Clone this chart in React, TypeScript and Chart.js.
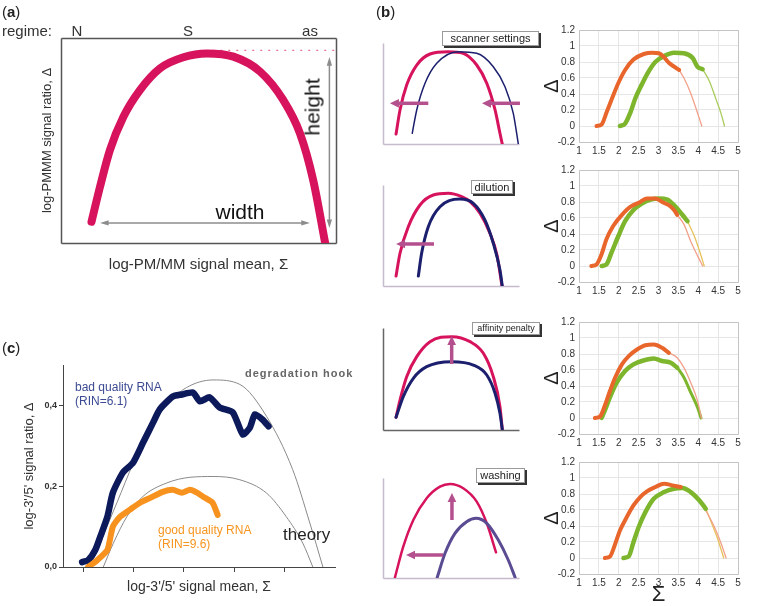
import React, { useEffect, useRef } from "react";
import { Chart, registerables } from "chart.js";
Chart.register(...registerables);

// ---------------- Panel (a): schematic hook ----------------
const aCurveX = [1.11, 1.42, 1.78, 2.27, 2.87, 3.6, 4.45, 5.3, 6.27, 7.24, 8.08, 8.69, 9.17, 9.62];
const aCurveY = [0.104, 0.275, 0.454, 0.616, 0.746, 0.852, 0.906, 0.925, 0.909, 0.836, 0.698, 0.535, 0.307, -0.01];
const aDotX = [5.5, 10];
const aDotY = [0.94, 0.94];
const aHeightArrow = [9.76, 0.907, 9.76, 0.073];
const aWidthArrow = [1.42, 0.098, 9.05, 0.098];

// ---------------- Panel (b): schematics ----------------
const b1RedX = [0.96, 1.25, 1.74, 2.48, 3.46, 4.8, 5.9, 6.89, 7.63, 8.24, 8.6, 8.77];
const b1RedY = [0.099, 0.337, 0.584, 0.782, 0.891, 0.914, 0.898, 0.782, 0.601, 0.337, 0.106, 0];
const b1BlueX = [2.15, 2.48, 3.09, 3.95, 5.54, 6.89, 8.11, 8.97, 9.58, 9.95];
const b1BlueY = [0.106, 0.337, 0.601, 0.799, 0.914, 0.898, 0.765, 0.567, 0.304, 0];
const b1Arrows = [[3.33, 0.403, 0.51, 0.403], [10.07, 0.403, 7.28, 0.403]];

const b2RedX = [0.96, 1.25, 1.86, 2.72, 3.7, 4.8, 5.79, 6.4, 7.13, 7.87, 8.38, 8.75];
const b2RedY = [0.099, 0.324, 0.587, 0.802, 0.901, 0.918, 0.884, 0.835, 0.72, 0.52, 0.307, 0];
const b2BlueX = [2.6, 2.84, 3.33, 4.19, 5.66, 6.64, 7.5, 8.11, 8.6, 8.77];
const b2BlueY = [0.099, 0.324, 0.587, 0.785, 0.861, 0.819, 0.653, 0.423, 0.158, 0];
const b2Arrows = [[3.75, 0.416, 0.96, 0.416]];

const b3RedX = [0.96, 1.25, 1.74, 2.48, 3.46, 5.05, 6.4, 7.38, 8.11, 8.6, 8.77];
const b3RedY = [0.125, 0.294, 0.523, 0.719, 0.866, 0.915, 0.866, 0.752, 0.523, 0.229, 0.007];
const b3BlueX = [0.96, 1.49, 2.23, 3.21, 5.05, 6.64, 7.63, 8.24, 8.6, 8.77];
const b3BlueY = [0.125, 0.327, 0.507, 0.621, 0.67, 0.637, 0.539, 0.36, 0.164, 0.007];
const b3Arrows = [[5.05, 0.647, 5.05, 0.922]];

const b4RedX = [0.88, 1.49, 2.23, 3.21, 4.19, 4.93, 5.9, 6.89, 7.63, 8.31];
const b4RedY = [0.007, 0.313, 0.58, 0.797, 0.913, 0.94, 0.897, 0.763, 0.547, 0.257];
const b4BlueX = [3.99, 4.56, 5.29, 6.15, 6.84, 7.63, 8.48, 9.21, 9.71];
const b4BlueY = [0.007, 0.247, 0.447, 0.563, 0.597, 0.547, 0.38, 0.18, 0.007];
const b4Arrows = [[5.07, 0.58, 5.07, 0.85], [4.41, 0.23, 1.69, 0.23]];

const bLabels = ["scanner settings", "dilution", "affinity penalty", "washing"];

// ---------------- Panel (b): measured Δ vs Σ ----------------
const scXTicks = [1, 1.5, 2, 2.5, 3, 3.5, 4, 4.5, 5];
const scXTickLabels = ["1", "1.5", "2", "2.5", "3", "3.5", "4", "4.5", "5"];
const scYTicks = [-0.2, 0, 0.2, 0.4, 0.6, 0.8, 1, 1.2];
const scYTickLabels = ["-0.2", "0", "0.2", "0.4", "0.6", "0.8", "1", "1.2"];

const sc1OrangeX = [1.44, 1.57, 1.69, 1.82, 1.99, 2.16, 2.37, 2.63, 2.84, 3.01, 3.14, 3.26, 3.43, 3.52];
const sc1OrangeY = [0, 0.02, 0.165, 0.33, 0.537, 0.7, 0.83, 0.9, 0.917, 0.909, 0.86, 0.79, 0.73, 0.7];
const sc1OrangeFitX = [3.52, 3.64, 3.81, 3.98, 4.09];
const sc1OrangeFitY = [0.7, 0.6, 0.41, 0.165, 0];
const sc1GreenX = [2.03, 2.16, 2.29, 2.42, 2.58, 2.75, 2.92, 3.14, 3.39, 3.64, 3.86, 3.98, 4.11];
const sc1GreenY = [0, 0.03, 0.165, 0.35, 0.52, 0.68, 0.8, 0.876, 0.917, 0.909, 0.85, 0.74, 0.71];
const sc1GreenFitX = [4.11, 4.28, 4.45, 4.58, 4.66];
const sc1GreenFitY = [0.71, 0.56, 0.33, 0.145, 0];

const sc2OrangeX = [1.31, 1.44, 1.57, 1.69, 1.86, 2.08, 2.29, 2.54, 2.71, 2.92, 3.09, 3.26, 3.39, 3.47];
const sc2OrangeY = [0, 0.02, 0.15, 0.335, 0.5, 0.64, 0.74, 0.8, 0.845, 0.845, 0.8, 0.76, 0.7, 0.64];
const sc2OrangeFitX = [3.47, 3.64, 3.81, 3.98, 4.11];
const sc2OrangeFitY = [0.64, 0.52, 0.31, 0.13, 0];
const sc2GreenX = [1.57, 1.69, 1.82, 1.99, 2.16, 2.37, 2.58, 2.8, 3.01, 3.22, 3.43, 3.6, 3.73];
const sc2GreenY = [0, 0.02, 0.17, 0.375, 0.56, 0.7, 0.78, 0.83, 0.845, 0.83, 0.74, 0.64, 0.56];
const sc2GreenFitX = [3.73, 3.9, 4.03, 4.15];
const sc2GreenFitY = [0.56, 0.375, 0.19, 0];

const sc3OrangeX = [1.4, 1.53, 1.65, 1.78, 1.91, 2.08, 2.25, 2.46, 2.67, 2.88, 3.09, 3.26];
const sc3OrangeY = [0, 0.02, 0.156, 0.34, 0.506, 0.67, 0.774, 0.856, 0.91, 0.918, 0.877, 0.815];
const sc3OrangeFitX = [3.26, 3.47, 3.64, 3.81, 3.98, 4.08];
const sc3OrangeFitY = [0.815, 0.753, 0.63, 0.444, 0.218, 0];
const sc3GreenX = [1.57, 1.65, 1.78, 1.95, 2.16, 2.37, 2.63, 2.88, 3.09, 3.31, 3.47];
const sc3GreenY = [0, 0.095, 0.26, 0.444, 0.588, 0.67, 0.72, 0.745, 0.712, 0.69, 0.63];
const sc3GreenFitX = [3.47, 3.64, 3.81, 3.98, 4.07];
const sc3GreenFitY = [0.63, 0.506, 0.32, 0.136, 0];

const sc4OrangeX = [1.65, 1.78, 1.91, 2.03, 2.2, 2.37, 2.54, 2.71, 2.92, 3.14, 3.35, 3.56];
const sc4OrangeY = [0, 0.02, 0.176, 0.343, 0.51, 0.657, 0.762, 0.833, 0.887, 0.929, 0.908, 0.887];
const sc4OrangeFitX = [3.56, 3.77, 3.98, 4.19, 4.41, 4.58, 4.7];
const sc4OrangeFitY = [0.887, 0.858, 0.762, 0.594, 0.385, 0.176, 0];
const sc4GreenX = [2.12, 2.25, 2.37, 2.5, 2.67, 2.88, 3.14, 3.39, 3.6, 3.81, 4.03, 4.19];
const sc4GreenY = [0, 0.02, 0.197, 0.385, 0.573, 0.74, 0.824, 0.866, 0.874, 0.824, 0.72, 0.615];
const sc4GreenFitX = [4.19, 4.36, 4.49, 4.64];
const sc4GreenFitY = [0.615, 0.406, 0.238, 0];

// ---------------- Panel (c): RNA degradation ----------------
const cBadX = [-0.02, 0.1, 0.24, 0.34, 0.48, 0.59, 0.79, 0.99, 1.19, 1.39, 1.52, 1.78, 1.96, 2.18, 2.32, 2.51, 2.71, 2.97, 3.17, 3.31, 3.41, 3.56, 3.68];
const cBadY = [0.012, 0.017, 0.042, 0.075, 0.124, 0.184, 0.234, 0.258, 0.308, 0.358, 0.39, 0.422, 0.427, 0.432, 0.41, 0.42, 0.395, 0.383, 0.328, 0.345, 0.378, 0.365, 0.348];
const cGoodX = [0.1, 0.28, 0.48, 0.59, 0.73, 0.93, 1.13, 1.33, 1.58, 1.78, 1.96, 2.12, 2.26, 2.38, 2.57, 2.67];
const cGoodY = [0, 0.017, 0.042, 0.1, 0.124, 0.142, 0.159, 0.171, 0.186, 0.191, 0.184, 0.191, 0.184, 0.174, 0.159, 0.129];
const cTheoryHighX = [0.14, 0.34, 0.67, 1.0, 1.33, 1.66, 2.05, 2.58, 3.11, 3.64, 4.16, 4.5, 4.76];
const cTheoryHighY = [0, 0.06, 0.159, 0.258, 0.34, 0.402, 0.444, 0.463, 0.452, 0.373, 0.241, 0.109, 0];
const cTheoryLowX = [0.4, 0.6, 0.87, 1.19, 1.66, 2.12, 2.58, 3.11, 3.64, 4.03, 4.36, 4.56];
const cTheoryLowY = [0, 0.059, 0.125, 0.175, 0.208, 0.222, 0.224, 0.216, 0.183, 0.125, 0.059, 0];
const cXTicks = [0, 1, 2, 3, 4];
const cYTicks = [0, 0.2, 0.4];
const cYTickLabels = ["0,0", "0,2", "0,4"];

// ---------------- helpers ----------------
const FONT = "'Liberation Sans', Arial, sans-serif";
const MAGENTA = "#d6135c";
const NAVY = "#1b1f6e";
const ARROW = "#b4508e";
const OR_THICK = "#e8652b";
const OR_THIN = "#f2a08a";
const GR_THICK = "#7db62d";
const GR_THIN = "#a9cc5c";
const YEL_THIN = "#e6c25a";

const pts = (xs: number[], ys: number[]) => xs.map((x, i) => ({ x, y: ys[i] }));

const line = (xs: number[], ys: number[], color: string, width: number, extra: any = {}) => ({
  data: pts(xs, ys),
  borderColor: color,
  backgroundColor: color,
  borderWidth: width,
  pointRadius: 0,
  fill: false,
  cubicInterpolationMode: "monotone",
  borderCapStyle: "round",
  ...extra,
});

function drawHead(ctx: any, x: number, y: number, ang: number, size: number, spread: number) {
  ctx.beginPath();
  ctx.moveTo(x, y);
  ctx.lineTo(x - size * Math.cos(ang - spread), y - size * Math.sin(ang - spread));
  ctx.lineTo(x - size * Math.cos(ang + spread), y - size * Math.sin(ang + spread));
  ctx.closePath();
  ctx.fill();
}

const arrowsPlugin = (items: { p: number[]; color: string; width: number; head: number; spread: number; both?: boolean }[]) => ({
  id: "arrows",
  afterDatasetsDraw(chart: any) {
    const { ctx } = chart;
    const xs = chart.scales.x;
    const ys = chart.scales.y;
    for (const it of items) {
      const x1 = xs.getPixelForValue(it.p[0]);
      const y1 = ys.getPixelForValue(it.p[1]);
      const x2 = xs.getPixelForValue(it.p[2]);
      const y2 = ys.getPixelForValue(it.p[3]);
      const ang = Math.atan2(y2 - y1, x2 - x1);
      const back = it.head * 0.75;
      ctx.save();
      ctx.strokeStyle = it.color;
      ctx.fillStyle = it.color;
      ctx.lineWidth = it.width;
      ctx.beginPath();
      ctx.moveTo(it.both ? x1 + Math.cos(ang) * back : x1, it.both ? y1 + Math.sin(ang) * back : y1);
      ctx.lineTo(x2 - Math.cos(ang) * back, y2 - Math.sin(ang) * back);
      ctx.stroke();
      drawHead(ctx, x2, y2, ang, it.head, it.spread);
      if (it.both) drawHead(ctx, x1, y1, ang + Math.PI, it.head, it.spread);
      ctx.restore();
    }
  },
});

const framePlugin = (sides: string[], color: string, width: number) => ({
  id: "frame",
  beforeDatasetsDraw(chart: any) {
    const { ctx, chartArea: a } = chart;
    ctx.save();
    ctx.strokeStyle = color;
    ctx.lineWidth = width;
    ctx.beginPath();
    const L = Math.round(a.left) + 0.5, R = Math.round(a.right) + 0.5;
    const T = Math.round(a.top) + 0.5, B = Math.round(a.bottom) + 0.5;
    if (sides.includes("left")) { ctx.moveTo(L, T); ctx.lineTo(L, B); }
    if (sides.includes("bottom")) { ctx.moveTo(L, B); ctx.lineTo(R, B); }
    if (sides.includes("top")) { ctx.moveTo(L, T); ctx.lineTo(R, T); }
    if (sides.includes("right")) { ctx.moveTo(R, T); ctx.lineTo(R, B); }
    ctx.stroke();
    ctx.restore();
  },
});

const base = {
  animation: false,
  responsive: false,
  maintainAspectRatio: false,
  devicePixelRatio: 1,
  events: [],
  plugins: { legend: { display: false }, tooltip: { enabled: false }, title: { display: false } },
};

function Plot({ left, top, width, height, make }: { left: number; top: number; width: number; height: number; make: () => any }) {
  const ref = useRef<HTMLCanvasElement>(null);
  useEffect(() => {
    const chart = new Chart(ref.current as HTMLCanvasElement, make());
    return () => chart.destroy();
  }, []);
  return (
    <canvas
      ref={ref}
      width={width}
      height={height}
      style={{ position: "absolute", left, top, width, height, display: "block" }}
    />
  );
}

// ---------- chart factories ----------
const makeA = () => ({
  type: "line",
  data: {
    datasets: [
      line(aCurveX, aCurveY, MAGENTA, 8),
      line(aDotX, aDotY, "#e0507a", 1, { borderDash: [2, 6], cubicInterpolationMode: "default", borderCapStyle: "butt" }),
    ],
  },
  options: {
    ...base,
    layout: { padding: { left: 0, top: 38, right: 44, bottom: 0 } },
    scales: {
      x: {
        type: "linear", min: 0, max: 10,
        ticks: { display: false }, grid: { display: false }, border: { display: false },
        title: { display: true, text: "log-PM/MM signal mean, Σ", color: "#333", font: { family: FONT, size: 15 }, padding: { top: 0, bottom: 16 } },
        afterFit: (s: any) => { s.height = 47; },
      },
      y: {
        type: "linear", min: 0, max: 1,
        ticks: { display: false }, grid: { display: false }, border: { display: false },
        title: { display: true, text: "log-PMMM signal ratio, Δ", color: "#333", font: { family: FONT, size: 13 }, padding: { top: 40, bottom: 0 } },
        afterFit: (s: any) => { s.width = 61; },
      },
    },
  },
  plugins: [
    framePlugin(["left", "bottom", "top", "right"], "#555", 1.5),
    arrowsPlugin([
      { p: aHeightArrow, color: "#8c8c8c", width: 1.5, head: 9, spread: 0.3, both: true },
      { p: aWidthArrow, color: "#8c8c8c", width: 1.5, head: 9, spread: 0.3, both: true },
    ]),
  ],
});

const makeSchematic = (
  redX: number[], redY: number[], redW: number,
  blueX: number[], blueY: number[], blueW: number, blueColor: string,
  arrows: number[][], axisColor: string
) => () => ({
  type: "line",
  data: {
    datasets: [
      line(blueX, blueY, blueColor, blueW),
      line(redX, redY, MAGENTA, redW),
    ],
  },
  options: {
    ...base,
    layout: { padding: { left: 5, top: 6, right: 9, bottom: 2 } },
    scales: {
      x: { type: "linear", min: 0, max: 10, display: false },
      y: { type: "linear", min: 0, max: 1, display: false },
    },
  },
  plugins: [
    framePlugin(["left", "bottom"], axisColor, 1.5),
    arrowsPlugin(arrows.map((p) => ({ p, color: ARROW, width: 3.5, head: 10, spread: 0.45 }))),
  ],
});

const makeScatter = (
  oX: number[], oY: number[], oFX: number[], oFY: number[], oFitColor: string,
  gX: number[], gY: number[], gFX: number[], gFY: number[], gFitColor: string, gFitW: number,
  sigma: boolean
) => () => ({
  type: "line",
  data: {
    datasets: [
      line(oX, oY, OR_THICK, 4),
      line(gX, gY, GR_THICK, 4.5),
      line(oFX, oFY, oFitColor, 1.3),
      line(gFX, gFY, gFitColor, gFitW),
    ],
  },
  options: {
    ...base,
    layout: { padding: { left: 0, top: 10, right: 7, bottom: 0 } },
    scales: {
      x: {
        type: "linear", min: 1, max: 5,
        afterBuildTicks: (s: any) => { s.ticks = scXTicks.map((v) => ({ value: v })); },
        ticks: {
          callback: (_v: number, i: number) => scXTickLabels[i],
          autoSkip: false, maxRotation: 0, padding: 3, color: "#333", font: { family: FONT, size: 10 },
        },
        grid: { color: "#e6e6e6", drawTicks: false },
        border: { display: false },
        title: { display: sigma, text: "Σ", color: "#222", font: { family: FONT, size: 22, lineHeight: 1 }, padding: { top: 0, bottom: 0 } },
        afterFit: (s: any) => { s.height = sigma ? 32 : 18; },
      },
      y: {
        type: "linear", min: -0.2, max: 1.2,
        afterBuildTicks: (s: any) => { s.ticks = scYTicks.map((v) => ({ value: v })); },
        ticks: {
          callback: (_v: number, i: number) => scYTickLabels[i],
          padding: 4, color: "#333", font: { family: FONT, size: 10 },
        },
        grid: { color: "#e6e6e6", drawTicks: false },
        border: { display: false },
        title: { display: true, text: "Δ", color: "#222", font: { family: FONT, size: 20, lineHeight: 1.2 }, padding: { top: 0, bottom: 0 } },
        afterFit: (s: any) => { s.width = 39; },
      },
    },
  },
  plugins: [framePlugin(["left", "bottom", "top", "right"], "#c4c4c4", 1)],
});

const makeC = () => ({
  type: "line",
  data: {
    datasets: [
      line(cGoodX, cGoodY, "#f7921e", 6, { cubicInterpolationMode: "default", tension: 0.2 }),
      line(cBadX, cBadY, "#0c1a5c", 6.5, { cubicInterpolationMode: "default", tension: 0.2 }),
      line(cTheoryHighX, cTheoryHighY, "#8a8a8a", 1),
      line(cTheoryLowX, cTheoryLowY, "#8a8a8a", 1),
    ],
  },
  options: {
    ...base,
    layout: { padding: { left: 0, top: 35, right: 45, bottom: 0 } },
    scales: {
      x: {
        type: "linear", min: -0.4, max: 5,
        afterBuildTicks: (s: any) => { s.ticks = cXTicks.map((v) => ({ value: v })); },
        ticks: { callback: () => "", padding: 0 },
        grid: { drawOnChartArea: false, color: "#444", tickLength: 5 },
        border: { color: "#444", width: 1 },
        title: { display: true, text: "log-3'/5' signal mean, Σ", color: "#333", font: { family: FONT, size: 14 }, padding: { top: 0, bottom: 10 } },
        afterFit: (s: any) => { s.height = 39; },
      },
      y: {
        type: "linear", min: 0, max: 0.5,
        afterBuildTicks: (s: any) => { s.ticks = cYTicks.map((v) => ({ value: v })); },
        ticks: {
          callback: (_v: number, i: number) => cYTickLabels[i],
          padding: 2, color: "#333", font: { family: FONT, size: 9, weight: "bold" },
        },
        grid: { drawOnChartArea: false, color: "#444", tickLength: 4 },
        border: { color: "#444", width: 1 },
        title: { display: true, text: "log-3'/5' signal ratio, Δ", color: "#333", font: { family: FONT, size: 13 }, padding: { top: 22, bottom: 0 } },
        afterFit: (s: any) => { s.width = 63; },
      },
    },
  },
});

// ---------- text helpers ----------
function T({ x, y, size, children, color = "#222", center = false, weight = "normal", rotate = 0, spacing = 0 }: any) {
  return (
    <div
      style={{
        position: "absolute",
        left: x,
        top: y,
        fontSize: size,
        lineHeight: 1,
        color,
        fontWeight: weight,
        letterSpacing: spacing,
        whiteSpace: "nowrap",
        transform: `translate(${center ? "-50%" : "0"}, -50%)${rotate ? ` rotate(${rotate}deg)` : ""}`,
        transformOrigin: center ? "50% 50%" : "0 50%",
      }}
    >
      {children}
    </div>
  );
}

function Box({ x, y, w, h, size, children }: any) {
  return (
    <div
      style={{
        position: "absolute",
        left: x,
        top: y,
        width: w,
        height: h,
        boxSizing: "border-box",
        border: "1px solid #9a9a9a",
        background: "#fff",
        boxShadow: "2px 2px 0 #333",
        fontSize: size,
        lineHeight: `${h - 2}px`,
        textAlign: "center",
        color: "#222",
        whiteSpace: "nowrap",
      }}
    >
      {children}
    </div>
  );
}

export default function App() {
  return (
    <div
      style={{
        position: "absolute",
        left: 0,
        top: 0,
        width: 760,
        height: 606,
        background: "#fff",
        overflow: "hidden",
        fontFamily: FONT,
      }}
    >
      <Plot left={0} top={0} width={380} height={290} make={makeA} />
      <Plot left={378} top={37} width={150} height={109}
        make={makeSchematic(b1RedX, b1RedY, 3, b1BlueX, b1BlueY, 1.5, NAVY, b1Arrows, "#c6bacd")} />
      <Plot left={378} top={179} width={150} height={109}
        make={makeSchematic(b2RedX, b2RedY, 3, b2BlueX, b2BlueY, 3, NAVY, b2Arrows, "#c6bacd")} />
      <Plot left={378} top={322} width={150} height={110}
        make={makeSchematic(b3RedX, b3RedY, 3, b3BlueX, b3BlueY, 3, NAVY, b3Arrows, "#666")} />
      <Plot left={378} top={472} width={150} height={108}
        make={makeSchematic(b4RedX, b4RedY, 2.5, b4BlueX, b4BlueY, 3, "#5b4b92", b4Arrows, "#c6bacd")} />

      <Plot left={540} top={20} width={205} height={140}
        make={makeScatter(sc1OrangeX, sc1OrangeY, sc1OrangeFitX, sc1OrangeFitY, OR_THIN, sc1GreenX, sc1GreenY, sc1GreenFitX, sc1GreenFitY, GR_THIN, 1.3, false)} />
      <Plot left={540} top={160} width={205} height={140}
        make={makeScatter(sc2OrangeX, sc2OrangeY, sc2OrangeFitX, sc2OrangeFitY, OR_THIN, sc2GreenX, sc2GreenY, sc2GreenFitX, sc2GreenFitY, YEL_THIN, 1.3, false)} />
      <Plot left={540} top={312} width={205} height={140}
        make={makeScatter(sc3OrangeX, sc3OrangeY, sc3OrangeFitX, sc3OrangeFitY, OR_THIN, sc3GreenX, sc3GreenY, sc3GreenFitX, sc3GreenFitY, GR_THICK, 3, false)} />
      <Plot left={540} top={452} width={205} height={154}
        make={makeScatter(sc4OrangeX, sc4OrangeY, sc4OrangeFitX, sc4OrangeFitY, OR_THIN, sc4GreenX, sc4GreenY, sc4GreenFitX, sc4GreenFitY, YEL_THIN, 1.3, true)} />

      <Plot left={0} top={330} width={380} height={276} make={makeC} />

      {/* panel (a) text */}
      <T x={2} y={11} size={15}>(<b>a</b>)</T>
      <T x={2} y={30} size={15} color="#333">regime:</T>
      <T x={77} y={30} size={15} color="#333" center>N</T>
      <T x={188} y={30} size={15} color="#333" center>S</T>
      <T x={310} y={30} size={15} color="#333" center>as</T>
      <T x={312} y={107} size={21} color="#111" center rotate={-90}>height</T>
      <T x={240} y={211} size={21} color="#111" center>width</T>

      {/* panel (b) text */}
      <T x={376} y={11} size={15}>(<b>b</b>)</T>
      <Box x={442} y={31} w={97} h={15} size={11}>{bLabels[0]}</Box>
      <Box x={471} y={180} w={42} h={14} size={11}>{bLabels[1]}</Box>
      <Box x={472} y={322} w={68} h={13} size={9}>{bLabels[2]}</Box>
      <Box x={476} y={468} w={49} h={15} size={11}>{bLabels[3]}</Box>

      {/* panel (c) text */}
      <T x={2} y={347} size={15}>(<b>c</b>)</T>
      <T x={245} y={373} size={11} color="#666" weight="bold" spacing={1}>degradation hook</T>
      <T x={75} y={387} size={12} color="#3b4a93">bad quality RNA</T>
      <T x={75} y={401} size={12} color="#3b4a93">(RIN=6.1)</T>
      <T x={158} y={530} size={12} color="#f7941d">good quality RNA</T>
      <T x={158} y={544} size={12} color="#f7941d">(RIN=9.6)</T>
      <T x={283} y={534} size={17} color="#222">theory</T>
    </div>
  );
}
